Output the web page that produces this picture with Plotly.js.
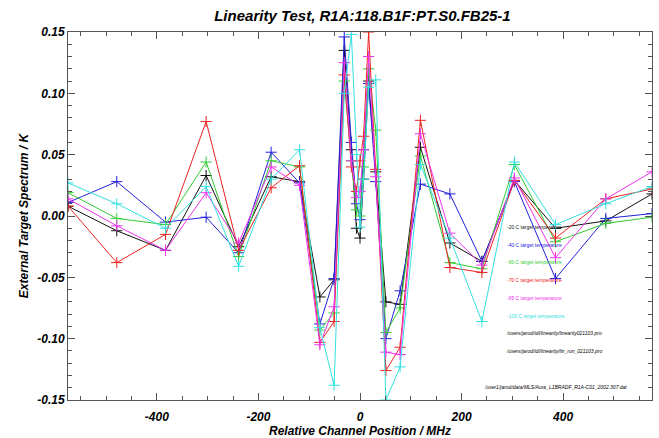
<!DOCTYPE html>
<html>
<head>
<meta charset="utf-8">
<script src="https://cdn.plot.ly/plotly-3.0.1.min.js"></script>
<style>html,body{margin:0;padding:0;background:#fff;}#chart{width:659px;height:438px;}</style>
</head>
<body>
<div id="chart"></div>
<script>
// Channel positions (MHz)
const channelPos = [-575,-479,-383,-303,-239,-175,-119,-79,-51,-31,-17,-7,0,7,17,31,51,79,119,177,240,304,385,484,575];

// Series values (K)
const tMinus20 = [0.008,-0.012,-0.028,0.033,-0.025,0.032,0.028,-0.066,-0.052,0.135,0.054,-0.010,-0.018,0.030,0.110,0.036,-0.070,-0.072,0.056,-0.022,-0.037,0.029,-0.010,-0.004,0.018];
const tMinus40 = [0.011,0.028,-0.005,-0.001,-0.030,0.052,0.027,-0.088,-0.051,0.146,0.060,0.010,-0.003,0.054,0.108,0.028,-0.100,-0.061,0.026,0.018,-0.037,0.028,-0.051,-0.002,0.002];
const tMinus60 = [0.019,-0.002,-0.007,0.044,-0.033,0.045,0.040,-0.093,-0.079,0.110,0.045,0.005,0.000,0.040,0.120,0.070,-0.095,-0.075,0.049,-0.038,-0.043,0.042,-0.021,-0.006,-0.001];
const tMinus70 = [0.008,-0.038,-0.015,0.077,-0.028,0.023,0.041,-0.103,-0.086,0.115,0.040,0.020,0.045,0.065,0.150,0.038,-0.126,-0.107,0.078,-0.042,-0.046,0.029,-0.018,0.014,0.022];
const tMinus85 = [0.014,-0.008,-0.028,0.019,-0.022,0.040,0.025,-0.105,-0.074,0.125,0.045,0.015,0.020,0.054,0.130,0.032,-0.111,-0.113,0.067,-0.014,-0.040,0.031,-0.034,0.014,0.036];
const tMinus100 = [0.027,0.010,-0.010,0.024,-0.041,0.030,0.054,-0.091,-0.138,0.100,0.148,0.050,-0.009,0.030,0.105,0.111,-0.150,-0.123,0.042,-0.018,-0.086,0.044,-0.007,0.010,0.024];

const seriesNames = ["-20 C target temperature","-40 C target temperature","-60 C target temperature","-70 C target temperature","-85 C target temperature","-100 C target temperature"];
const seriesValues = [tMinus20, tMinus40, tMinus60, tMinus70, tMinus85, tMinus100];
const seriesColors = ["#111111","#2222dd","#33cc33","#ee2222","#ee33ee","#33e0e0"];

// Tick labels
const xTickVals = [-400,-200,0,200,400];
const xTickText = ["-400","-200","0","200","400"];
const yTickVals = [-0.15,-0.10,-0.05,0,0.05,0.10,0.15];
const yTickText = ["-0.15","-0.10","-0.05","0.00","0.05","0.10","0.15"];

const infoLines = [
  "/users/jarod/idl/linearity/linearity021103.pro",
  "/users/jarod/idl/linearity/lin_run_021103.pro"
];
const fileLine = "/user1/jarod/data/MLS/Aura_L1BRADF_R1A-C01_2002.307.dat";

const traces = seriesValues.map((v, i) => ({
  x: channelPos, y: v, type: 'scatter', mode: 'lines+markers', name: seriesNames[i],
  line: {color: seriesColors[i], width: 1},
  marker: {symbol: 'cross-thin', size: 8, line: {color: seriesColors[i], width: 1}, color: seriesColors[i]}
}));

const fontBI = {family: 'Liberation Sans, Arial, sans-serif', size: 12, color: '#000', weight: 'bold', style: 'italic'};

const annotations = [];
seriesNames.forEach((n, i) => {
  annotations.push({xref: 'paper', yref: 'paper', x: (505-68)/584, y: (400-(227+i*17.7))/368, xanchor: 'left', yanchor: 'middle',
    text: n, showarrow: false, font: {family: 'Liberation Sans, Arial, sans-serif', size: 5, color: seriesColors[i]}});
});
infoLines.forEach((t, i) => {
  annotations.push({xref: 'paper', yref: 'paper', x: (504-68)/584, y: (400-(333+i*18))/368, xanchor: 'left', yanchor: 'middle',
    text: t, showarrow: false, font: {family: 'Liberation Sans, Arial, sans-serif', size: 5, color: '#000', style: 'italic'}});
});
annotations.push({xref: 'paper', yref: 'paper', x: (482-68)/584, y: (400-387)/368, xanchor: 'left', yanchor: 'middle',
  text: fileLine, showarrow: false, font: {family: 'Liberation Sans, Arial, sans-serif', size: 5, color: '#000', style: 'italic'}});

const axisCommon = {
  showgrid: false, zeroline: false, showline: true, linecolor: '#555', linewidth: 1, mirror: 'allticks',
  ticks: 'inside', ticklen: 7, tickcolor: '#555', tickwidth: 1,
  tickfont: fontBI
};

const layout = {
  width: 659, height: 438,
  margin: {l: 68, r: 7, t: 32, b: 38},
  paper_bgcolor: '#fff', plot_bgcolor: '#fff',
  showlegend: false,
  title: {text: 'Linearity Test, R1A:118.B1F:PT.S0.FB25-1', x: 0.55, xanchor: 'center', y: 0.965, yanchor: 'middle',
    font: {family: 'Liberation Sans, Arial, sans-serif', size: 15, color: '#000', weight: 'bold', style: 'italic'}},
  xaxis: Object.assign({}, axisCommon, {
    range: [-575, 575], tickmode: 'array', tickvals: xTickVals, ticktext: xTickText,
    minor: {dtick: 50, tick0: 0, ticks: 'inside', ticklen: 4, tickcolor: '#555'},
    title: {text: 'Relative Channel Position / MHz', standoff: 2, font: fontBI},
    ticklabelstandoff: 6
  }),
  yaxis: Object.assign({}, axisCommon, {
    range: [-0.15, 0.15], tickmode: 'array', tickvals: yTickVals, ticktext: yTickText,
    minor: {dtick: 0.01, tick0: 0, ticks: 'inside', ticklen: 4, tickcolor: '#555'},
    title: {text: 'External Target Spectrum / K', standoff: 6, font: fontBI}
  }),
  annotations: annotations
};

Plotly.newPlot('chart', traces, layout, {displayModeBar: false, staticPlot: true});
</script>
</body>
</html>
